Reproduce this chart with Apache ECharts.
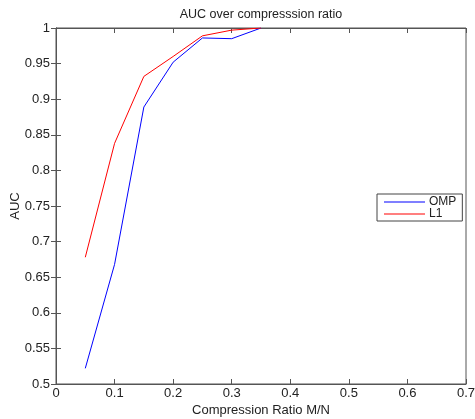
<!DOCTYPE html>
<html>
<head>
<meta charset="utf-8">
<script src="https://cdn.jsdelivr.net/npm/echarts@6/dist/echarts.min.js"></script>
<style>
  html, body { margin: 0; padding: 0; background: #fff; }
  #chart { width: 475px; height: 419px; }
</style>
</head>
<body>
<div id="chart"></div>
<script>
// compression ratios M/N
const ratios = [0.05, 0.1, 0.15, 0.2, 0.25, 0.3, 0.35];
// AUC per method
const ompAuc = [0.522, 0.668, 0.889, 0.952, 0.986, 0.985, 1.0];
const l1Auc = [0.678, 0.838, 0.932, 0.960, 0.989, 0.997, 1.0];

const seriesNames = ['OMP', 'L1'];
const seriesColors = ['#0000ff', '#ff0000'];

function pairs(xs, ys) {
  return xs.map((x, i) => [x, ys[i]]);
}

const font = 'Liberation Sans, Arial, sans-serif';
const axisColor = '#555';
const txtColor = '#222';
const boxAxis = {
  axisLine: { show: true, lineStyle: { color: axisColor, width: 1 } },
  axisTick: { show: true, inside: true, length: 5, lineStyle: { color: axisColor } },
  splitLine: { show: false },
};
// thin line legend icon, padded so it is not stretched
const lineIcon = 'path://M0,5.5H41V6.5H0Z M0,0H0.01V0.01H0Z M0,12H0.01V11.99H0Z';

const chart = echarts.init(document.getElementById('chart'));
chart.setOption({
  animation: false,
  backgroundColor: '#fff',
  title: {
    text: 'AUC over compresssion ratio',
    left: 261,
    top: 8,
    padding: 0,
    textAlign: 'center',
    textStyle: { fontFamily: font, fontSize: 12.5, fontWeight: 'normal', color: txtColor },
  },
  grid: {
    left: 56, right: 9, top: 28, bottom: 35, containLabel: false, outerBoundsMode: 'none',
    show: true, borderColor: axisColor, borderWidth: 1, backgroundColor: '#fff',
  },
  legend: {
    orient: 'vertical',
    left: 377,
    top: 194,
    padding: [2, 6, 1, 7],
    itemWidth: 41,
    itemHeight: 12,
    itemGap: 0,
    icon: lineIcon,
    backgroundColor: '#fff',
    borderColor: '#444',
    borderWidth: 1,
    borderRadius: 0,
    textStyle: { fontFamily: font, fontSize: 12, color: txtColor, padding: [0, 0, 0, -1] },
    data: seriesNames,
  },
  xAxis: [
    Object.assign({
      type: 'value', min: 0, max: 0.7, interval: 0.1,
      name: 'Compression Ratio M/N', nameLocation: 'middle', nameGap: 20, nameMoveOverlap: false,
      nameTextStyle: { fontFamily: font, fontSize: 13, color: txtColor },
      axisLabel: { fontFamily: font, fontSize: 13, color: txtColor, margin: 3 },
    }, boxAxis),
    Object.assign({
      type: 'value', min: 0, max: 0.7, interval: 0.1, position: 'top',
      axisLabel: { show: false },
    }, boxAxis),
  ],
  yAxis: [
    Object.assign({
      type: 'value', min: 0.5, max: 1, interval: 0.05,
      name: 'AUC', nameLocation: 'middle', nameGap: 34, nameRotate: 90, nameMoveOverlap: false,
      nameTextStyle: { fontFamily: font, fontSize: 13, color: txtColor },
      axisLabel: { fontFamily: font, fontSize: 13, color: txtColor, margin: 6 },
    }, boxAxis),
    Object.assign({
      type: 'value', min: 0.5, max: 1, interval: 0.05, position: 'right',
      axisLabel: { show: false },
    }, boxAxis),
  ],
  series: [
    {
      name: seriesNames[0], type: 'line', showSymbol: false, symbol: 'none',
      data: pairs(ratios, ompAuc),
      lineStyle: { color: seriesColors[0], width: 1 },
      itemStyle: { color: seriesColors[0] },
    },
    {
      name: seriesNames[1], type: 'line', showSymbol: false, symbol: 'none',
      data: pairs(ratios, l1Auc),
      lineStyle: { color: seriesColors[1], width: 1 },
      itemStyle: { color: seriesColors[1] },
    },
  ],
});
</script>
</body>
</html>
